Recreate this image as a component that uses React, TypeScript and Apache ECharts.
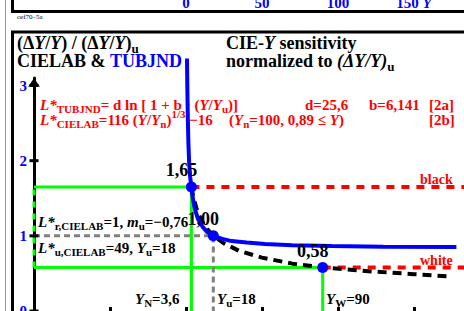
import React, { useEffect, useRef } from 'react';
import * as echarts from 'echarts';

const FF = "'Liberation Serif', 'Times New Roman', Times, serif";

// TUBJND sensitivity curve
const tubY = [0.7, 0.9, 1.2, 1.6, 2.1, 2.8, 3.6, 4.5, 6, 8, 11, 14, 18, 24, 30, 40, 52, 70, 96, 130, 178];
const tubV = [3.36, 3.0, 2.6, 2.25, 1.98, 1.78, 1.65, 1.5, 1.35, 1.22, 1.12, 1.05, 1.0, 0.96, 0.93, 0.91, 0.89, 0.875, 0.865, 0.855, 0.85];
// CIELAB sensitivity curve
const labY = [3.6, 5, 7, 10, 14, 18, 25, 35, 50, 70, 90, 120, 150, 174];
const labV = [1.65, 1.5, 1.36, 1.21, 1.09, 1.0, 0.9, 0.8, 0.71, 0.63, 0.58, 0.53, 0.49, 0.46];
// marked points: Y_N, Y_u, Y_W
const dotY = [3.6, 18, 90];
const dotV = [1.65, 1.0, 0.58];
const dotLabels = ['1,65', '1,00', '0,58'];
// ticks
const yTicks = [0, 1, 2, 3];
const xTicks = [-50, 0, 50, 100, 150];
const topLabels = [0, 50, 100, 150];

const X_MIN = -100;
const X_MAX = 183;
const V_MAX = 3.1;

function rich(size: number, color: string, sub: number, subPad: number, supPad: number) {
  const base = { fontFamily: FF, fontWeight: 'bold', fill: color };
  return {
    i: { ...base, fontSize: size, fontStyle: 'italic' },
    s: { ...base, fontSize: sub, padding: [subPad, 0, 0, 0] },
    p: { ...base, fontSize: sub, padding: [0, 0, supPad, 0] },
    b: { ...base, fontSize: size, fill: '#0000ff' },
  };
}

function txt(x: number, y: number, text: string, size: number, color: string, sub?: number, subPad = 8, supPad = 10, weight = 'bold') {
  const sb = sub ?? Math.round(size * 0.72);
  return {
    type: 'text',
    x,
    y,
    z: 1,
    silent: true,
    style: {
      text,
      fontFamily: FF,
      fontWeight: weight,
      fontSize: size,
      fill: color,
      align: 'left',
      verticalAlign: 'middle',
      rich: rich(size, color, sb, subPad, supPad),
    },
  };
}

function ln(x1: number, y1: number, x2: number, y2: number, w: number, c: string) {
  return { type: 'line', z: 1, silent: true, shape: { x1, y1, x2, y2 }, style: { stroke: c, lineWidth: w } };
}

function lineSeries(data: number[][], color: string, width: number, dash: any, z = 2, clip = true) {
  return {
    type: 'line',
    data,
    symbol: 'none',
    silent: true,
    clip,
    z,
    lineStyle: { color, width, type: dash, opacity: 1 },
  };
}

export default function App() {
  const ref = useRef<HTMLDivElement>(null);
  useEffect(() => {
    if (!ref.current) return;
    const chart = echarts.init(ref.current, null, { renderer: 'svg' });

    const tubData = tubY.map((y, i) => [y, tubV[i]]);
    const labData = labY.map((y, i) => [y, labV[i]]);
    const greenTop = [[X_MIN, dotV[0]], [dotY[0], dotV[0]], [dotY[0], 0]];
    const greenBot = [[X_MIN, dotV[2]], [dotY[2], dotV[2]], [dotY[2], 0]];
    const greenLeft = [[X_MIN, dotV[2]], [X_MIN, dotV[0]]];
    const gray = [[X_MIN, dotV[1]], [dotY[1], dotV[1]], [dotY[1], 0]];
    const red1 = [[dotY[0], dotV[0]], [X_MAX, dotV[0]]];
    const red2 = [[dotY[2], dotV[2]], [X_MAX, dotV[2]]];

    const option: any = {
      animation: false,
      backgroundColor: '#fff',
      grid: [
        { left: 34, right: 0, top: 78, bottom: 0, outerBoundsMode: 'none', containLabel: false },
        { left: 34, right: 0, top: -20, height: 10, outerBoundsMode: 'none', containLabel: false },
      ],
      xAxis: [
        {
          type: 'value', gridIndex: 0, min: X_MIN, max: X_MAX,
          axisLine: { show: false },
          axisTick: { show: true, inside: true, length: 4, lineStyle: { color: '#000', width: 3 }, customValues: xTicks },
          axisLabel: { show: false },
          splitLine: { show: false },
        },
        {
          type: 'value', gridIndex: 1, min: X_MIN, max: X_MAX,
          axisLine: { show: false },
          axisTick: { show: false },
          splitLine: { show: false },
          axisLabel: {
            show: true,
            customValues: topLabels,
            margin: 5,
            color: '#0000ff', fontFamily: FF, fontWeight: 'bold', fontSize: 15,
            formatter: (v: number) => (v === 150 ? '150 {i|Y}' : String(v)),
            rich: { i: { color: '#0000ff', fontFamily: FF, fontWeight: 'bold', fontStyle: 'italic', fontSize: 15 } },
          },
        },
      ],
      yAxis: [
        {
          type: 'value', gridIndex: 0, min: 0, max: V_MAX,
          axisLine: { show: true, onZero: false, symbol: ['none', 'arrow'], symbolSize: [9, 9], lineStyle: { color: '#000', width: 3 } },
          axisTick: { show: false },
          axisLabel: { show: true, customValues: yTicks, color: '#0000ff', fontFamily: FF, fontWeight: 'bold', fontSize: 15, margin: 7 },
          splitLine: { show: false },
        },
        { type: 'value', gridIndex: 1, show: false, min: 0, max: 1 },
      ],
      series: [
        lineSeries(greenTop, '#00ff00', 3, 'solid'),
        lineSeries(greenBot, '#00ff00', 3, 'solid'),
        lineSeries(greenLeft, '#00ff00', 3, [6, 6]),
        lineSeries(gray, '#808080', 3, [6, 4]),
        lineSeries(red1, '#ff0000', 4, [8, 7]),
        lineSeries(red2, '#ff0000', 4, [8, 7]),
        lineSeries(labData, '#000000', 4, [9, 6], 3),
        lineSeries(tubData, '#0000ff', 4, 'solid', 4, false),
        {
          type: 'scatter',
          silent: true,
          z: 5,
          data: yTicks.map((v) => [X_MIN, v]),
          symbol: 'rect',
          symbolSize: [9, 3],
          itemStyle: { color: '#000', opacity: 1 },
        },
        {
          type: 'scatter',
          silent: true,
          z: 6,
          data: dotY.map((y, i) => [y, dotV[i]]),
          symbol: 'circle',
          symbolSize: 11,
          itemStyle: { color: '#0000ff', opacity: 1 },
          label: {
            show: true,
            position: 'top',
            distance: 2,
            offset: [-10, 0],
            formatter: (p: any) => dotLabels[p.dataIndex],
            fontFamily: FF,
            fontWeight: 'bold',
            fontSize: 18,
            color: '#000',
            opacity: 1,
            textBorderWidth: 0,
          },
        },
      ],
      graphic: [
        ln(5.5, 0, 5.5, 311, 1, '#999'),
        ln(12.5, 0, 12.5, 13, 3, '#000'),
        ln(11, 11.5, 464, 11.5, 3, '#000'),
        ln(11, 32, 464, 32, 3, '#000'),
        ln(12.5, 31, 12.5, 311, 3, '#000'),
        txt(17, 17, 'cef70–5a', 7, '#000', 6, 0, 0, 'normal'),
        txt(17, 43, '(Δ{i|Y}/{i|Y}) / (Δ{i|Y}/{i|Y}){s|u}', 18, '#000', 13, 10),
        txt(17, 61, 'CIELAB & {b|TUBJND}', 18, '#000'),
        txt(226, 43, 'CIE-{i|Y} sensitivity', 18, '#000'),
        txt(226, 61, 'normalized to {i|(ΔY/Y)}{s|u}', 18, '#000', 13, 10),
        txt(40, 105, '{i|L*}{s|TUBJND}= d ln [ 1 + b · ({i|Y}/{i|Y}{s|u})]', 15, '#ff0000', 11, 8),
        txt(305, 105, 'd=25,6', 15, '#ff0000'),
        txt(369, 105, 'b=6,141', 15, '#ff0000'),
        txt(429, 105, '[2a]', 15, '#ff0000'),
        txt(40, 120, '{i|L*}{s|CIELAB}=116 ({i|Y}/{i|Y}{s|n}){p|1/3} −16', 15, '#ff0000', 11, 8, 12),
        txt(229, 120, '({i|Y}{s|n}=100, 0,89 ≤ {i|Y})', 15, '#ff0000', 11, 8),
        txt(429, 120, '[2b]', 15, '#ff0000'),
        txt(38, 222, '{i|L*}{s|r,CIELAB}=1, {i|m}{s|u}=−0,76', 15, '#000', 11, 8),
        txt(38, 248, '{i|L*}{s|u,CIELAB}=49, {i|Y}{s|u}=18', 15, '#000', 11, 8),
        txt(135, 299, '{i|Y}{s|N}=3,6', 15, '#000', 11, 8),
        txt(217, 299, '{i|Y}{s|u}=18', 15, '#000', 11, 8),
        txt(326, 299, '{i|Y}{s|W}=90', 15, '#000', 11, 8),
        txt(420, 179, 'black', 14, '#ff0000'),
        txt(420, 260, 'white', 14, '#ff0000'),
      ],
    };
    chart.setOption(option);
    return () => chart.dispose();
  }, []);
  return (
    <div
      ref={ref}
      style={{ position: 'fixed', left: 0, top: 0, width: 464, height: 311, background: '#fff' }}
    />
  );
}
